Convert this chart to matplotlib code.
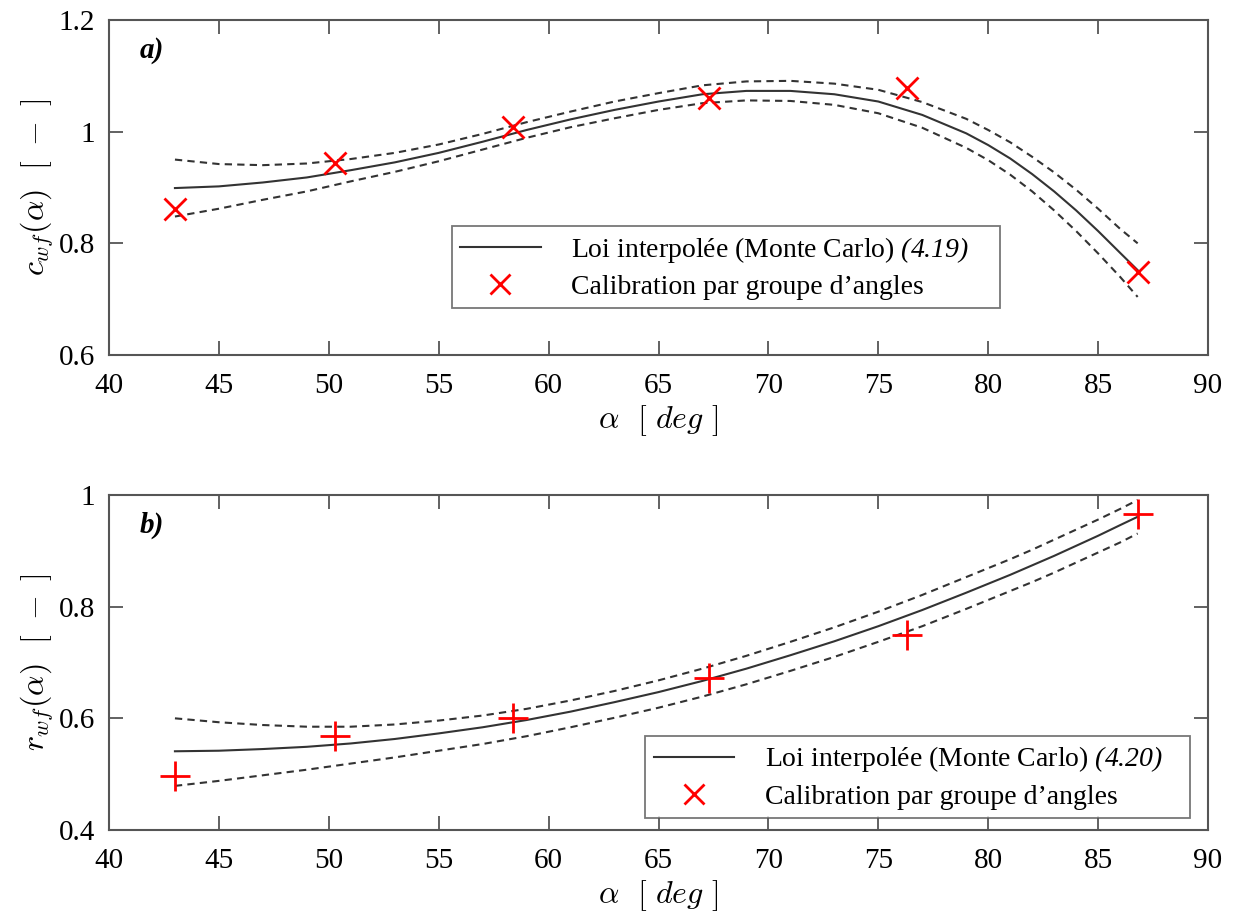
import matplotlib
matplotlib.use("Agg")
import matplotlib.pyplot as plt
from matplotlib.lines import Line2D
from matplotlib.ticker import FormatStrFormatter

plt.rcParams['font.family'] = ['Liberation Serif', 'DejaVu Serif']
plt.rcParams['mathtext.fontset'] = 'custom'
plt.rcParams['mathtext.rm'] = 'Liberation Serif'
plt.rcParams['mathtext.it'] = 'Liberation Serif:italic'
plt.rcParams['mathtext.sf'] = 'Liberation Serif:italic'
plt.rcParams['mathtext.bf'] = 'Liberation Serif:bold'

# ---------------- data ----------------
alpha_pts = [43.0, 50.3, 58.4, 67.3, 76.3, 86.8]
cwf_pts = [0.862, 0.943, 1.008, 1.060, 1.078, 0.749]
rwf_pts = [0.496, 0.568, 0.601, 0.672, 0.749, 0.966]

alpha_curve = [43, 45, 47, 49, 51, 53, 55, 57, 59, 61, 63, 65, 67, 69, 71, 73, 75, 77,
               79, 80, 81, 82, 83, 84, 85, 86, 86.8]

cwf_fit = [0.899, 0.902, 0.909, 0.918, 0.931, 0.945, 0.962, 0.982, 1.003, 1.022, 1.039, 1.054,
           1.067, 1.073, 1.073, 1.067, 1.054, 1.030,
           0.997, 0.976, 0.952, 0.924, 0.893, 0.859, 0.822, 0.783, 0.752]
cwf_upper = [0.950, 0.942, 0.940, 0.943, 0.951, 0.962, 0.977, 0.996, 1.017, 1.036, 1.054, 1.069,
             1.083, 1.090, 1.091, 1.086, 1.075, 1.053,
             1.023, 1.003, 0.981, 0.955, 0.927, 0.896, 0.862, 0.826, 0.800]
cwf_lower = [0.848, 0.862, 0.878, 0.893, 0.911, 0.928, 0.947, 0.968, 0.989, 1.008, 1.024, 1.039,
             1.051, 1.056, 1.055, 1.048, 1.033, 1.007,
             0.971, 0.949, 0.923, 0.893, 0.859, 0.822, 0.782, 0.740, 0.704]

rwf_fit = [0.541, 0.542, 0.545, 0.549, 0.555, 0.563, 0.573, 0.584, 0.597, 0.612, 0.629, 0.647,
           0.667, 0.689, 0.713, 0.738, 0.765, 0.794,
           0.825, 0.841, 0.857, 0.874, 0.891, 0.909, 0.927, 0.946, 0.961]
rwf_upper = [0.600, 0.593, 0.588, 0.585, 0.585, 0.589, 0.596, 0.605, 0.617, 0.632, 0.649, 0.668,
             0.689, 0.712, 0.737, 0.763, 0.791, 0.821,
             0.853, 0.869, 0.885, 0.902, 0.920, 0.938, 0.956, 0.975, 0.991]
rwf_lower = [0.479, 0.488, 0.498, 0.508, 0.519, 0.530, 0.542, 0.554, 0.568, 0.584, 0.601, 0.619,
             0.639, 0.661, 0.685, 0.710, 0.737, 0.765,
             0.796, 0.812, 0.828, 0.844, 0.861, 0.879, 0.897, 0.915, 0.931]

x_ticks = [40, 45, 50, 55, 60, 65, 70, 75, 80, 85, 90]
ytick_top = [0.6, 0.8, 1.0, 1.2]
ytick_bot = [0.4, 0.6, 0.8, 1.0]

label_fit_a = r"Loi interpolée (Monte Carlo) $\mathsf{(4.19)}$"
label_fit_b = r"Loi interpolée (Monte Carlo) $\mathsf{(4.20)}$"
label_pts = "Calibration par groupe d’angles"

# ---------------- figure ----------------
fig = plt.figure(figsize=(12.34, 9.15), dpi=100)
W, H = 1234, 915
ax1 = fig.add_axes([109 / W, 1 - 355 / H, 1099 / W, 335 / H])
ax2 = fig.add_axes([109 / W, 1 - 830 / H, 1099 / W, 335 / H])

line_col = '#333333'
spine_col = '#555555'
fs = 21


def style(ax, yticks, ylim):
    ax.set_xlim(40, 90)
    ax.set_ylim(*ylim)
    ax.set_xticks(x_ticks)
    ax.set_yticks(yticks)
    ax.yaxis.set_major_formatter(FormatStrFormatter('%g'))
    ax.tick_params(direction='in', top=True, right=True, length=10, width=1.3,
                   color=spine_col, labelsize=fs, pad=10)
    ax.tick_params(axis='x', pad=13)
    for s in ax.spines.values():
        s.set_color(spine_col)
        s.set_linewidth(1.5)


def draw(ax, fit, up, lo, pts, marker, ms, lab_fit, ylabel, panel, leg_box):
    ax.plot(alpha_curve, fit, color=line_col, lw=1.5)
    ax.plot(alpha_curve, up, color=line_col, lw=1.5, ls=(0, (3.5, 2.5)))
    ax.plot(alpha_curve, lo, color=line_col, lw=1.5, ls=(0, (3.5, 2.5)))
    ax.plot(alpha_pts, pts, ls='none', marker=marker, color='red', ms=ms, mew=2.0)
    handles = [Line2D([], [], color=line_col, lw=1.5),
               Line2D([], [], ls='none', marker='x', color='red', ms=15, mew=2.0)]
    leg = ax.legend(handles, [lab_fit, label_pts], loc='lower left',
                    bbox_to_anchor=leg_box, mode='expand', fontsize=20,
                    frameon=True, fancybox=False, edgecolor=spine_col,
                    handlelength=2.9, handletextpad=1.1, borderpad=0.3,
                    labelspacing=0.35, borderaxespad=0)
    leg.get_frame().set_linewidth(1.3)
    ax.set_xlabel(r"$\alpha\ \ [\ deg\ ]$", fontsize=23, math_fontfamily='cm', labelpad=3)
    ax.set_ylabel(ylabel, fontsize=23, math_fontfamily='cm', labelpad=2)
    ax.text(0.028, 0.91, panel, transform=ax.transAxes, fontsize=21,
            fontweight='bold', fontstyle='italic', va='center', ha='left')


style(ax1, ytick_top, (0.6, 1.2))
style(ax2, ytick_bot, (0.4, 1.0))

draw(ax1, cwf_fit, cwf_upper, cwf_lower, cwf_pts, 'x', 16, label_fit_a,
     r"$c_{wf}(\alpha)\ \ [\ -\ ]$", 'a)', (0.312, 0.140, 0.499, 0.257))
draw(ax2, rwf_fit, rwf_upper, rwf_lower, rwf_pts, '+', 21, label_fit_b,
     r"$r_{wf}(\alpha)\ \ [\ -\ ]$", 'b)', (0.488, 0.036, 0.496, 0.263))

fig.savefig('out.png', dpi=100)
